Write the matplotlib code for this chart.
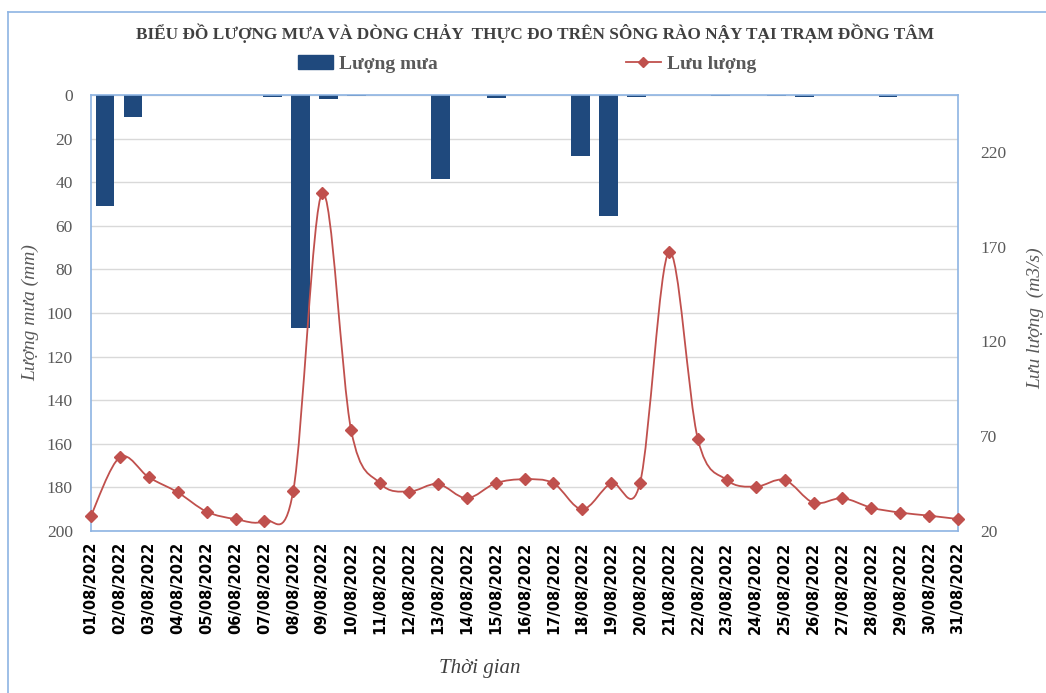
import matplotlib
matplotlib.use("Agg")
import matplotlib.pyplot as plt
from matplotlib.path import Path
from matplotlib.patches import PathPatch
from matplotlib.lines import Line2D
from matplotlib.patches import Patch
import numpy as np

dates = ["%02d/08/2022" % d for d in range(1, 32)]
rain = [51, 10, 0, 0, 0, 0, 1, 107, 2, 0.5, 0, 0, 38.5, 0, 1.3, 0, 0, 28, 55.5, 1,
        0, 0, 0.5, 0, 0.5, 1, 0, 0, 1, 0, 0]
flow = [28.1, 58.9, 48.3, 40.4, 30.2, 26.3, 25.4, 41.3, 198.2, 73.3, 45.2, 40.8, 44.8,
        37.3, 45.2, 47.3, 45.2, 31.5, 45.2, 45.5, 167.2, 68.4, 46.9, 43.4, 46.9, 34.9,
        37.3, 32.3, 29.7, 28.1, 26.3]
left_ticks = [0, 20, 40, 60, 80, 100, 120, 140, 160, 180, 200]
right_ticks = [20, 70, 120, 170, 220]

title = "BIỂU ĐỒ LƯỢNG MƯA VÀ DÒNG CHẢY  THỰC ĐO TRÊN SÔNG RÀO NẬY TẠI TRẠM ĐỒNG TÂM"

W, H = 1046, 693
fig = plt.figure(figsize=(W / 100, H / 100), dpi=100)
serif = ["Liberation Serif", "DejaVu Serif"]
gray = "#595959"
border = "#8EB4E3"

pos = [91 / W, 1 - 531 / H, (958 - 91) / W, (531 - 95) / H]
ax = fig.add_axes(pos)
x = np.arange(len(dates))
ax.bar(x, rain, width=0.67, color="#1F497D", zorder=2)
ax.set_xlim(-0.5, len(dates) - 0.5)
ax.set_ylim(200, 0)
ax.set_yticks(left_ticks)
ax.set_yticklabels([str(t) for t in left_ticks], fontfamily=serif, fontsize=12.5, color=gray)
ax.tick_params(axis="y", length=0, pad=13)
ax.set_xticks([])
ax.yaxis.grid(True, color="#D9D9D9", linewidth=1, zorder=0)
ax.set_axisbelow(True)
for s in ax.spines.values():
    s.set_color(border)
    s.set_linewidth(1.2)
ax.set_ylabel("Lượng mưa (mm)", fontfamily=serif, fontstyle="italic", fontsize=14,
              color=gray, va="center")
ax.yaxis.set_label_coords((31 - 91) / (958 - 91), (531 - 313) / (531 - 95))

ax2 = fig.add_axes(pos, facecolor="none")
ax2.set_xlim(0, len(dates) - 1)
ax2.set_ylim(20, 250)
for s in ax2.spines.values():
    s.set_visible(False)
ax2.yaxis.tick_right()
ax2.yaxis.set_label_position("right")
ax2.set_yticks(right_ticks)
ax2.set_yticklabels([str(t) for t in right_ticks], fontfamily=serif, fontsize=12.5, color=gray)
ax2.tick_params(axis="y", length=0, pad=16)
ax2.set_xticks(x)
ax2.set_xticklabels(dates, rotation=90, fontfamily="DejaVu Sans", fontweight="bold",
                    fontsize=10.5, color="#000000")
ax2.tick_params(axis="x", length=0, pad=8)
ax2.set_ylabel("Lưu lượng  (m3/s)", fontfamily=serif, fontstyle="italic", fontsize=14,
               color=gray, rotation=90, va="center")
ax2.yaxis.set_label_coords((1036 - 91) / (958 - 91), (531 - 318) / (531 - 95))
ax2.set_xlabel("Thời gian", fontfamily=serif, fontstyle="italic", fontsize=15,
               color="#404040", va="center")
ax2.xaxis.set_label_coords((480 - 91) / (958 - 91), -(668 - 531) / (531 - 95))

# smoothed line (Catmull-Rom style bezier through data points)
pts = np.column_stack([x, flow]).astype(float)
n = len(pts)
verts = [pts[0]]
codes = [Path.MOVETO]
for i in range(n - 1):
    p0 = pts[max(i - 1, 0)]
    p1 = pts[i]
    p2 = pts[i + 1]
    p3 = pts[min(i + 2, n - 1)]
    c1 = p1 + (p2 - p0) / 6.0
    c2 = p2 - (p3 - p1) / 6.0
    verts += [c1, c2, p2]
    codes += [Path.CURVE4] * 3
red = "#C0504D"
ax2.add_patch(PathPatch(Path(verts, codes), facecolor="none", edgecolor=red, linewidth=1.3,
                        zorder=3))
ax2.plot(x, flow, linestyle="none", marker="D", markersize=6, color=red, zorder=4,
         clip_on=False)

fig.text(535 / W, 1 - 33 / H, title, ha="center", va="center", fontfamily=serif,
         fontweight="bold", fontsize=12.4, color="#404040")

handles = [Patch(facecolor="#1F497D", edgecolor="#1F497D"),
           Line2D([0], [0], color=red, marker="D", markersize=5, linewidth=1.3)]
fig.legend([handles[0]], ["Lượng mưa"], loc="center", bbox_to_anchor=(368 / W, 1 - 64 / H),
           frameon=False, prop={"family": serif, "weight": "bold", "size": 14},
           handlelength=1.8, handletextpad=0.3, labelcolor=gray)
fig.legend([handles[1]], ["Lưu lượng"], loc="center", bbox_to_anchor=(691 / W, 1 - 64 / H),
           frameon=False, prop={"family": serif, "weight": "bold", "size": 14},
           handlelength=1.8, handletextpad=0.3, labelcolor=gray)

# outer chart border
fig.add_artist(Line2D([8 / W, 1], [1 - 12 / H, 1 - 12 / H], transform=fig.transFigure,
                      color=border, linewidth=1.2))
fig.add_artist(Line2D([8 / W, 8 / W], [0, 1 - 12 / H], transform=fig.transFigure,
                      color=border, linewidth=1.2))

fig.savefig("out.png", dpi=100)
